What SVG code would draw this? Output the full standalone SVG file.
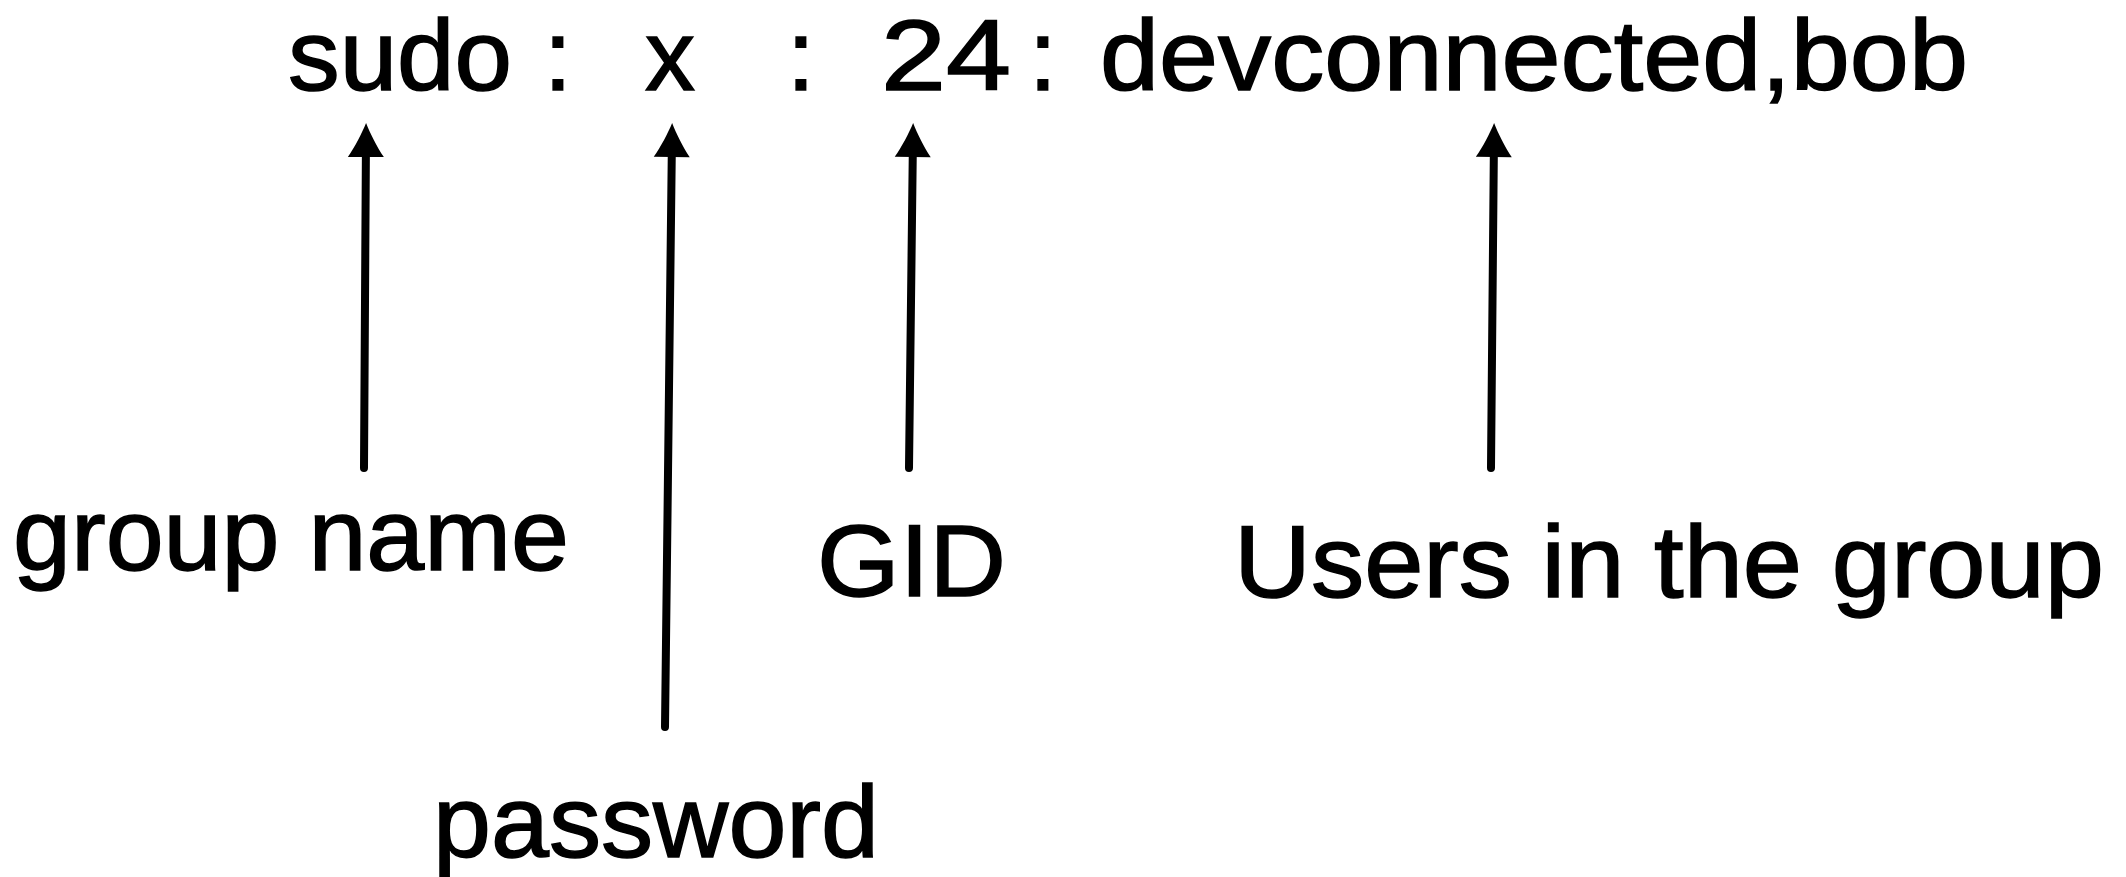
<svg xmlns="http://www.w3.org/2000/svg" width="2126" height="877" viewBox="0 0 2126 877">
<style>
text{font-family:"Liberation Sans",Arial,sans-serif;fill:#000;stroke:#000;stroke-width:1.5;font-size:102px}
#record text{font-size:100px}
.c line{stroke:#000;stroke-width:8;stroke-linecap:round;fill:none}
</style>
<defs>
<marker id="ah" markerUnits="userSpaceOnUse" markerWidth="40" markerHeight="44" viewBox="0 0 40 44" refX="26" refY="22" orient="auto">
<path d="M38 22 C28 18 14 11 4 4 L4 40 C14 33 28 26 38 22 Z" fill="#000"/>
</marker>
</defs>
<rect width="2126" height="877" fill="#fff"/>
<g id="record">
<text x="288" y="90" textLength="224" lengthAdjust="spacingAndGlyphs">sudo</text>
<text x="558" y="90" text-anchor="middle">:</text>
<text x="670" y="90" text-anchor="middle">x</text>
<text x="801" y="90" text-anchor="middle">:</text>
<text x="881" y="90" textLength="130" lengthAdjust="spacingAndGlyphs">24</text>
<text x="1043" y="90" text-anchor="middle">:</text>
<text x="1100" y="90" textLength="868" lengthAdjust="spacingAndGlyphs">devconnected,bob</text>
</g>
<g class="c" id="connectors">
<line x1="364" y1="468" x2="366" y2="135" marker-end="url(#ah)"/>
<line x1="665" y1="727" x2="672" y2="135" marker-end="url(#ah)"/>
<line x1="909" y1="468" x2="913" y2="135" marker-end="url(#ah)"/>
<line x1="1491" y1="468" x2="1494" y2="135" marker-end="url(#ah)"/>
</g>
<g id="group-name"><text x="13" y="570" textLength="556" lengthAdjust="spacingAndGlyphs">group name</text></g>
<g id="password"><text x="433" y="857" textLength="446" lengthAdjust="spacingAndGlyphs">password</text></g>
<g id="gid"><text x="817" y="596" font-size="100" textLength="189" lengthAdjust="spacingAndGlyphs">GID</text></g>
<g id="users"><text x="1234" y="597" textLength="870" lengthAdjust="spacingAndGlyphs">Users in the group</text></g>
</svg>
